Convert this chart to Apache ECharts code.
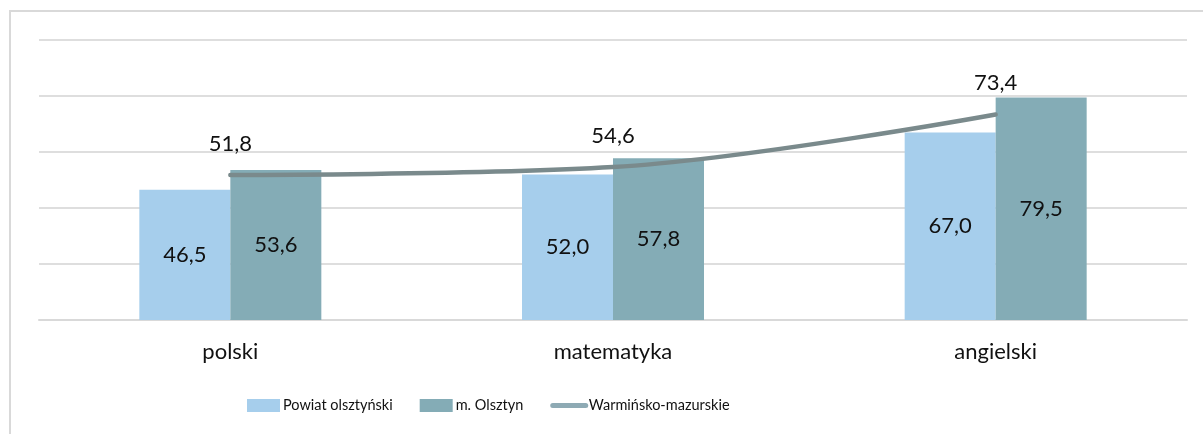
<!DOCTYPE html>
<html>
<head>
<meta charset="utf-8">
<script src="https://cdn.jsdelivr.net/npm/echarts@6/dist/echarts.min.js"></script>
<style>
  html, body { margin: 0; padding: 0; background: #fff; }
  #chart { width: 1203px; height: 434px; }
</style>
</head>
<body>
<div id="chart"></div>
<script>
// Przedmioty egzaminacyjne
const categories = ['polski', 'matematyka', 'angielski'];
// Średnie wyniki (%)
const powiatOlsztynski = [46.5, 52.0, 67.0];
const mOlsztyn = [53.6, 57.8, 79.5];
const warminskoMazurskie = [51.8, 54.6, 73.4];

const seriesNames = ['Powiat olsztyński', 'm. Olsztyn', 'Warmińsko-mazurskie'];

const FONT = 'Lato, "Noto Sans", sans-serif';
const fmt = p => p.value.toFixed(1).replace('.', ',');

const chart = echarts.init(document.getElementById('chart'), null, { renderer: 'canvas' });

chart.setOption({
  backgroundColor: '#ffffff',
  animation: false,
  textStyle: { fontFamily: FONT },
  graphic: [{
    type: 'rect',
    shape: { x: 10, y: 11, width: 1300, height: 500 },
    style: { fill: 'none', stroke: '#d9d9d9', lineWidth: 2 },
    silent: true,
    z: -10
  }],
  grid: { left: 39, right: 16, top: 40, bottom: 114, containLabel: false },
  legend: {
    left: 242,
    top: 393,
    itemWidth: 33,
    itemHeight: 13,
    itemGap: 27,
    textStyle: { fontFamily: FONT, fontSize: 14.5, color: '#111', padding: [0, 0, 0, -2] },
    data: [
      { name: seriesNames[0], icon: 'rect' },
      { name: seriesNames[1], icon: 'rect' },
      {
        name: seriesNames[2],
        itemStyle: { color: '#8eaab4', opacity: 0 },
        lineStyle: { color: '#8eaab4', width: 5, cap: 'round' }
      }
    ]
  },
  xAxis: {
    type: 'category',
    data: categories,
    axisLine: { show: true, lineStyle: { color: '#d9d9d9', width: 2 } },
    axisTick: { show: false },
    axisLabel: { fontFamily: FONT, fontSize: 22, color: '#111', margin: 21 }
  },
  yAxis: {
    type: 'value',
    min: 0,
    max: 100,
    interval: 20,
    axisLabel: { show: false },
    axisLine: { show: false },
    axisTick: { show: false },
    splitLine: { lineStyle: { color: '#dedede', width: 2 } }
  },
  series: [
    {
      name: seriesNames[0],
      type: 'bar',
      data: powiatOlsztynski,
      barWidth: 91,
      barGap: '0%',
      itemStyle: { color: '#a6ceec' },
      label: { show: true, position: 'inside', formatter: fmt, fontFamily: FONT, fontSize: 22, color: '#111' }
    },
    {
      name: seriesNames[1],
      type: 'bar',
      data: mOlsztyn,
      barWidth: 91,
      barGap: '0%',
      itemStyle: { color: '#84acb6' },
      label: { show: true, position: 'inside', formatter: fmt, fontFamily: FONT, fontSize: 22, color: '#111' }
    },
    {
      name: seriesNames[2],
      type: 'line',
      data: warminskoMazurskie,
      smooth: 0.35,
      symbol: 'circle',
      symbolSize: 1,
      itemStyle: { color: '#7a8a8c' },
      lineStyle: { color: '#7a8a8c', width: 4.5, cap: 'round' },
      label: { show: true, position: 'top', distance: 20, formatter: fmt, fontFamily: FONT, fontSize: 22, color: '#111' },
      z: 5
    }
  ]
});
</script>
</body>
</html>
